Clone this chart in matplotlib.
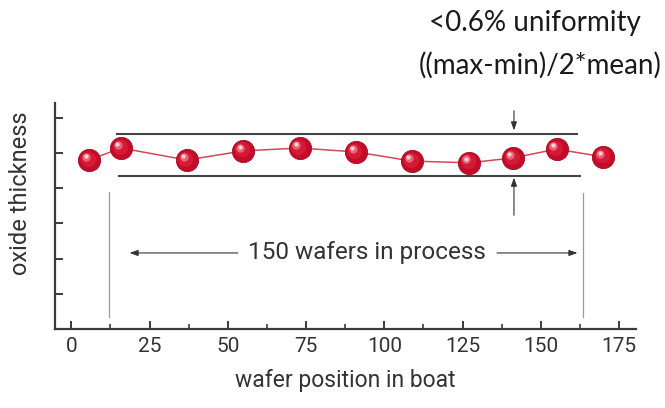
import numpy as np
import matplotlib
matplotlib.use('Agg')
import matplotlib.pyplot as plt
import matplotlib.transforms as mtrans

# DATA
wafer_pos = [5.7, 15.9, 36.9, 55.0, 72.9, 90.9, 108.8, 127.1, 141.1, 155.0, 169.9]
thickness = [4.80, 5.14, 4.80, 5.06, 5.14, 5.03, 4.77, 4.72, 4.86, 5.11, 4.89]
upper_limit = 5.54
lower_limit = 4.35
boat_start = 12.2
boat_end = 163.3
x_ticks = [0, 25, 50, 75, 100, 125, 150, 175]
y_ticks = [1, 2, 3, 4, 5, 6]

label_font = ['Liberation Sans Narrow', 'Roboto', 'DejaVu Sans']
note_font = ['Lato', 'DejaVu Sans']
axis_col = '#3a3a3a'

fig = plt.figure(figsize=(6.65, 4.08), dpi=100)
ax = fig.add_axes([0.0827, 0.1936, 0.8733, 0.554])
ax.set_xlim(-5.2, 180.3)
ax.set_ylim(0, 6.42)

for s in ['top', 'right']:
    ax.spines[s].set_visible(False)
for s in ['left', 'bottom']:
    ax.spines[s].set_color(axis_col)
    ax.spines[s].set_linewidth(1.6)

ax.set_xticks(x_ticks)
ax.set_xticks(np.array(x_ticks[:-1]) + 12.5, minor=True)
ax.set_yticks(y_ticks)
ax.set_yticklabels([])
ax.tick_params(axis='both', which='major', direction='in', length=6, width=1.4, color=axis_col)
ax.tick_params(axis='x', which='minor', direction='in', length=3.5, width=1.2, color=axis_col)
ax.tick_params(axis='x', labelsize=15, labelcolor='#333333', pad=6)
for lab in ax.get_xticklabels():
    lab.set_family(label_font)

ax.set_xlabel('wafer position in boat', fontsize=16.5, color='#333333', family=label_font, labelpad=9)
ax.set_ylabel('oxide thickness', fontsize=17, color='#333333', family=label_font)
ax.yaxis.set_label_coords(-0.04, 0.60)

# uniformity band
ax.plot([14.5, 161.4], [upper_limit, upper_limit], color='#444444', lw=1.5)
ax.plot([15.2, 162.4], [lower_limit, lower_limit], color='#444444', lw=1.5)

# boat limits
ax.plot([boat_start, boat_start], [0.35, 3.89], color='#9a9a9a', lw=0.9)
ax.plot([boat_end, boat_end], [0.35, 3.87], color='#9a9a9a', lw=0.9)

# band arrows
arr = dict(arrowstyle='-|>,head_length=0.5,head_width=0.18', color='#333333', lw=0.8, shrinkA=0, shrinkB=0)
ax.annotate('', xy=(141.4, upper_limit + 0.1), xytext=(141.4, 6.2), arrowprops=arr)
ax.annotate('', xy=(141.4, lower_limit - 0.05), xytext=(141.4, 3.23), arrowprops=arr)

# 150 wafers arrows
ax.annotate('', xy=(18.6, 2.16), xytext=(53.2, 2.16), arrowprops=arr)
ax.annotate('', xy=(161.7, 2.16), xytext=(136.0, 2.16), arrowprops=arr)
ax.text(94.5, 2.16, '150 wafers in process', fontsize=17.5, color='#333333',
        family=label_font, ha='center', va='center')

# data line and sphere markers
ax.plot(wafer_pos, thickness, color='#d2485a', lw=1.1, zorder=3)
ax.plot(wafer_pos, thickness, 'o', ms=16, mfc='#c20c2a', mec='#a80820', mew=0.6, zorder=4)
ax.plot(wafer_pos, thickness, 'o', ms=11, mfc='#d41a34', mec='none', zorder=5,
        transform=mtrans.offset_copy(ax.transData, fig=fig, x=-1, y=1, units='points'))
ax.plot(wafer_pos, thickness, 'o', ms=6, mfc='#ea6474', mec='none', zorder=6,
        transform=mtrans.offset_copy(ax.transData, fig=fig, x=-2.2, y=2.4, units='points'))
ax.plot(wafer_pos, thickness, 'o', ms=3, mfc='#fbd6da', mec='none', zorder=7,
        transform=mtrans.offset_copy(ax.transData, fig=fig, x=-2.6, y=2.9, units='points'))

# note
fig.text(0.805, 0.944, '<0.6% uniformity', fontsize=20, color='#1a1a1a', family=note_font,
         ha='center', va='center')
fig.text(0.812, 0.839, '((max-min)/2*mean)', fontsize=20, color='#1a1a1a', family=note_font,
         ha='center', va='center')

fig.savefig('out.png', dpi=100)
